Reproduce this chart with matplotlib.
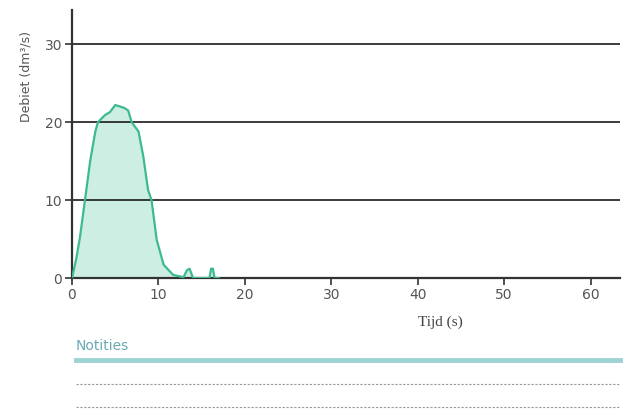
import matplotlib
matplotlib.use("Agg")
import matplotlib.pyplot as plt
from matplotlib.lines import Line2D

# Data
time_s = [0.0, 0.5, 0.93, 1.5, 2.1, 2.7, 3.0, 3.8, 4.4, 5.0, 5.6, 6.1, 6.5, 6.9, 7.7,
          8.25, 8.8, 9.2, 9.8, 10.6, 11.7, 12.9, 13.3, 13.6, 14.0, 15.9, 16.1, 16.3, 16.5, 17.0]
flow = [0.0, 2.5, 5.3, 10.0, 15.0, 18.8, 20.0, 20.9, 21.3, 22.2, 22.0, 21.8, 21.5, 20.0, 18.8,
        15.6, 11.3, 10.0, 4.9, 1.7, 0.4, 0.1, 1.0, 1.2, 0.0, 0.0, 1.2, 1.2, 0.0, 0.0]
x_ticks = [0, 10, 20, 30, 40, 50, 60]
y_ticks = [0, 10, 20, 30]
x_label = "Tijd (s)"
y_label = "Debiet (dm³/s)"
notes_title = "Notities"

fig = plt.figure(figsize=(6.29, 4.09), dpi=100)
ax = fig.add_axes([72/629, 1 - 278/409, (620-72)/629, (278-10)/409])
ax.set_xlim(0, 63.4)
ax.set_ylim(0, 34.4)

line_c = "#3dba92"
fill_c = "#cdeee3"
ax.fill_between(time_s, flow, 0, color=fill_c, zorder=1, linewidth=0)
ax.plot(time_s, flow, color=line_c, lw=1.6, zorder=3)

for yv in y_ticks[1:]:
    ax.axhline(yv, color="#1a1a1a", lw=1.2, zorder=2)

for s in ["top", "right"]:
    ax.spines[s].set_visible(False)
ax.spines["left"].set_color("#333333")
ax.spines["bottom"].set_color("#333333")
ax.spines["left"].set_linewidth(1.6)
ax.spines["bottom"].set_linewidth(1.6)
ax.set_xticks(x_ticks)
ax.set_yticks(y_ticks)
ax.tick_params(axis="both", colors="#333333", labelcolor="#555555", labelsize=10,
               length=5, width=1.2, pad=2)
ax.set_xlabel(x_label, family="Liberation Serif", fontsize=11, color="#444444")
ax.xaxis.set_label_coords((440-72)/(620-72), -0.14)
ax.set_ylabel(y_label, family="Liberation Sans Narrow", fontsize=9, color="#555555")
ax.yaxis.set_label_coords(-0.072, 0.75)

fig.text(76/629, 1 - 346/409, notes_title, fontsize=10, color="#6aaab4",
         va="center", ha="left")
fig.add_artist(Line2D([76/629, 620/629], [1 - 360/409, 1 - 360/409],
                      color="#9dd3d3", lw=3.5, transform=fig.transFigure))
for yy in [384, 407]:
    fig.add_artist(Line2D([76/629, 620/629], [1 - yy/409, 1 - yy/409],
                          color="#999999", lw=0.8, ls=(0, (2, 1.5)),
                          transform=fig.transFigure))

fig.savefig("out.png", dpi=100)
